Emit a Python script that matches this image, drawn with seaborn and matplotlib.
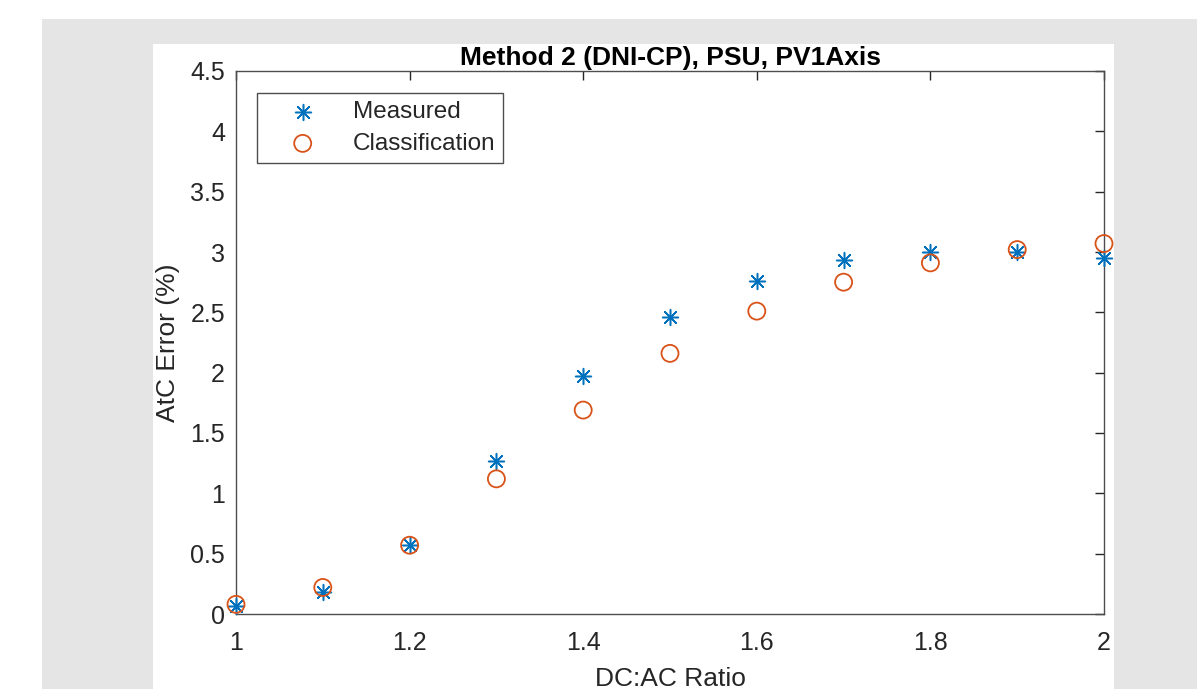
import numpy as np
import pandas as pd
import matplotlib
matplotlib.use("Agg")
import matplotlib.pyplot as plt
import seaborn as sns
from matplotlib.patches import Rectangle

# ---- data ----
dc_ac_ratio = [1.0, 1.1, 1.2, 1.3, 1.4, 1.5, 1.6, 1.7, 1.8, 1.9, 2.0]
measured = [0.07, 0.18, 0.57, 1.27, 1.97, 2.46, 2.76, 2.93, 3.00, 3.00, 2.95]
classification = [0.08, 0.22, 0.57, 1.12, 1.69, 2.16, 2.51, 2.75, 2.91, 3.02, 3.07]
x_ticks = [1.0, 1.2, 1.4, 1.6, 1.8, 2.0]
x_tick_labels = ["1", "1.2", "1.4", "1.6", "1.8", "2"]
y_ticks = [0, 0.5, 1, 1.5, 2, 2.5, 3, 3.5, 4, 4.5]
y_tick_labels = ["0", "0.5", "1", "1.5", "2", "2.5", "3", "3.5", "4", "4.5"]

df_meas = pd.DataFrame({"x": dc_ac_ratio, "y": measured})
df_cls = pd.DataFrame({"x": dc_ac_ratio, "y": classification})

sns.set_style("white")
plt.rcParams["font.family"] = ["Liberation Sans", "DejaVu Sans"]

fig = plt.figure(figsize=(11.97, 6.89), dpi=100)
fig.patch.set_facecolor("white")
# gray background panel and white figure panel (MATLAB-style window)
fig.patches.append(Rectangle((42 / 1197, 0), 1 - 42 / 1197, 1 - 19 / 689,
                             transform=fig.transFigure, facecolor="#e5e5e5",
                             edgecolor="none", zorder=-10))
fig.patches.append(Rectangle((153 / 1197, 0), (1114 - 153) / 1197, 1 - 44 / 689,
                             transform=fig.transFigure, facecolor="white",
                             edgecolor="none", zorder=-9))

ax = fig.add_axes([236 / 1197, 1 - 614 / 689, (1104 - 236) / 1197, (614 - 71) / 689])
ax.set_facecolor("white")

blue = "#0072BD"
orange = "#D95319"

sns.scatterplot(data=df_meas, x="x", y="y", ax=ax, marker=(8, 2, 0), s=130,
                color=blue, edgecolor=blue, linewidth=1.1, label="Measured",
                zorder=3, clip_on=False)
sns.scatterplot(data=df_cls, x="x", y="y", ax=ax, marker="o", s=150,
                facecolor="none", edgecolor=orange, linewidth=1.3,
                label="Classification", zorder=4, clip_on=False)

ax.set_xlim(1, 2)
ax.set_ylim(0, 4.5)
ax.set_xticks(x_ticks)
ax.set_xticklabels(x_tick_labels)
ax.set_yticks(y_ticks)
ax.set_yticklabels(y_tick_labels)

tc = "#262626"
ax.tick_params(direction="in", length=6.5, width=1, colors=tc,
               labelsize=18, top=True, right=True)
ax.tick_params(axis="x", labeltop=False, pad=12)
ax.tick_params(axis="y", pad=8)
for sp in ax.spines.values():
    sp.set_visible(True)
    sp.set_color("#4d4d4d")
    sp.set_linewidth(1.0)

ax.set_xlabel("DC:AC Ratio", fontsize=19, color=tc, labelpad=9)
ax.set_ylabel("AtC Error (%)", fontsize=19, color=tc, labelpad=7)
ax.set_title("Method 2 (DNI-CP), PSU, PV1Axis", fontsize=19,
             fontweight="bold", color="black", pad=4)

leg = ax.legend(loc="upper left", bbox_to_anchor=(0.0242, 0.9595), frameon=True,
                fancybox=False, framealpha=1, edgecolor="#4d4d4d",
                fontsize=17.5, handletextpad=0.5, borderpad=0.33,
                labelspacing=0.4, handlelength=3.1, borderaxespad=0)
leg.get_frame().set_linewidth(1.0)
for t in leg.get_texts():
    t.set_color(tc)

fig.savefig("out.png", dpi=100, facecolor=fig.get_facecolor())
